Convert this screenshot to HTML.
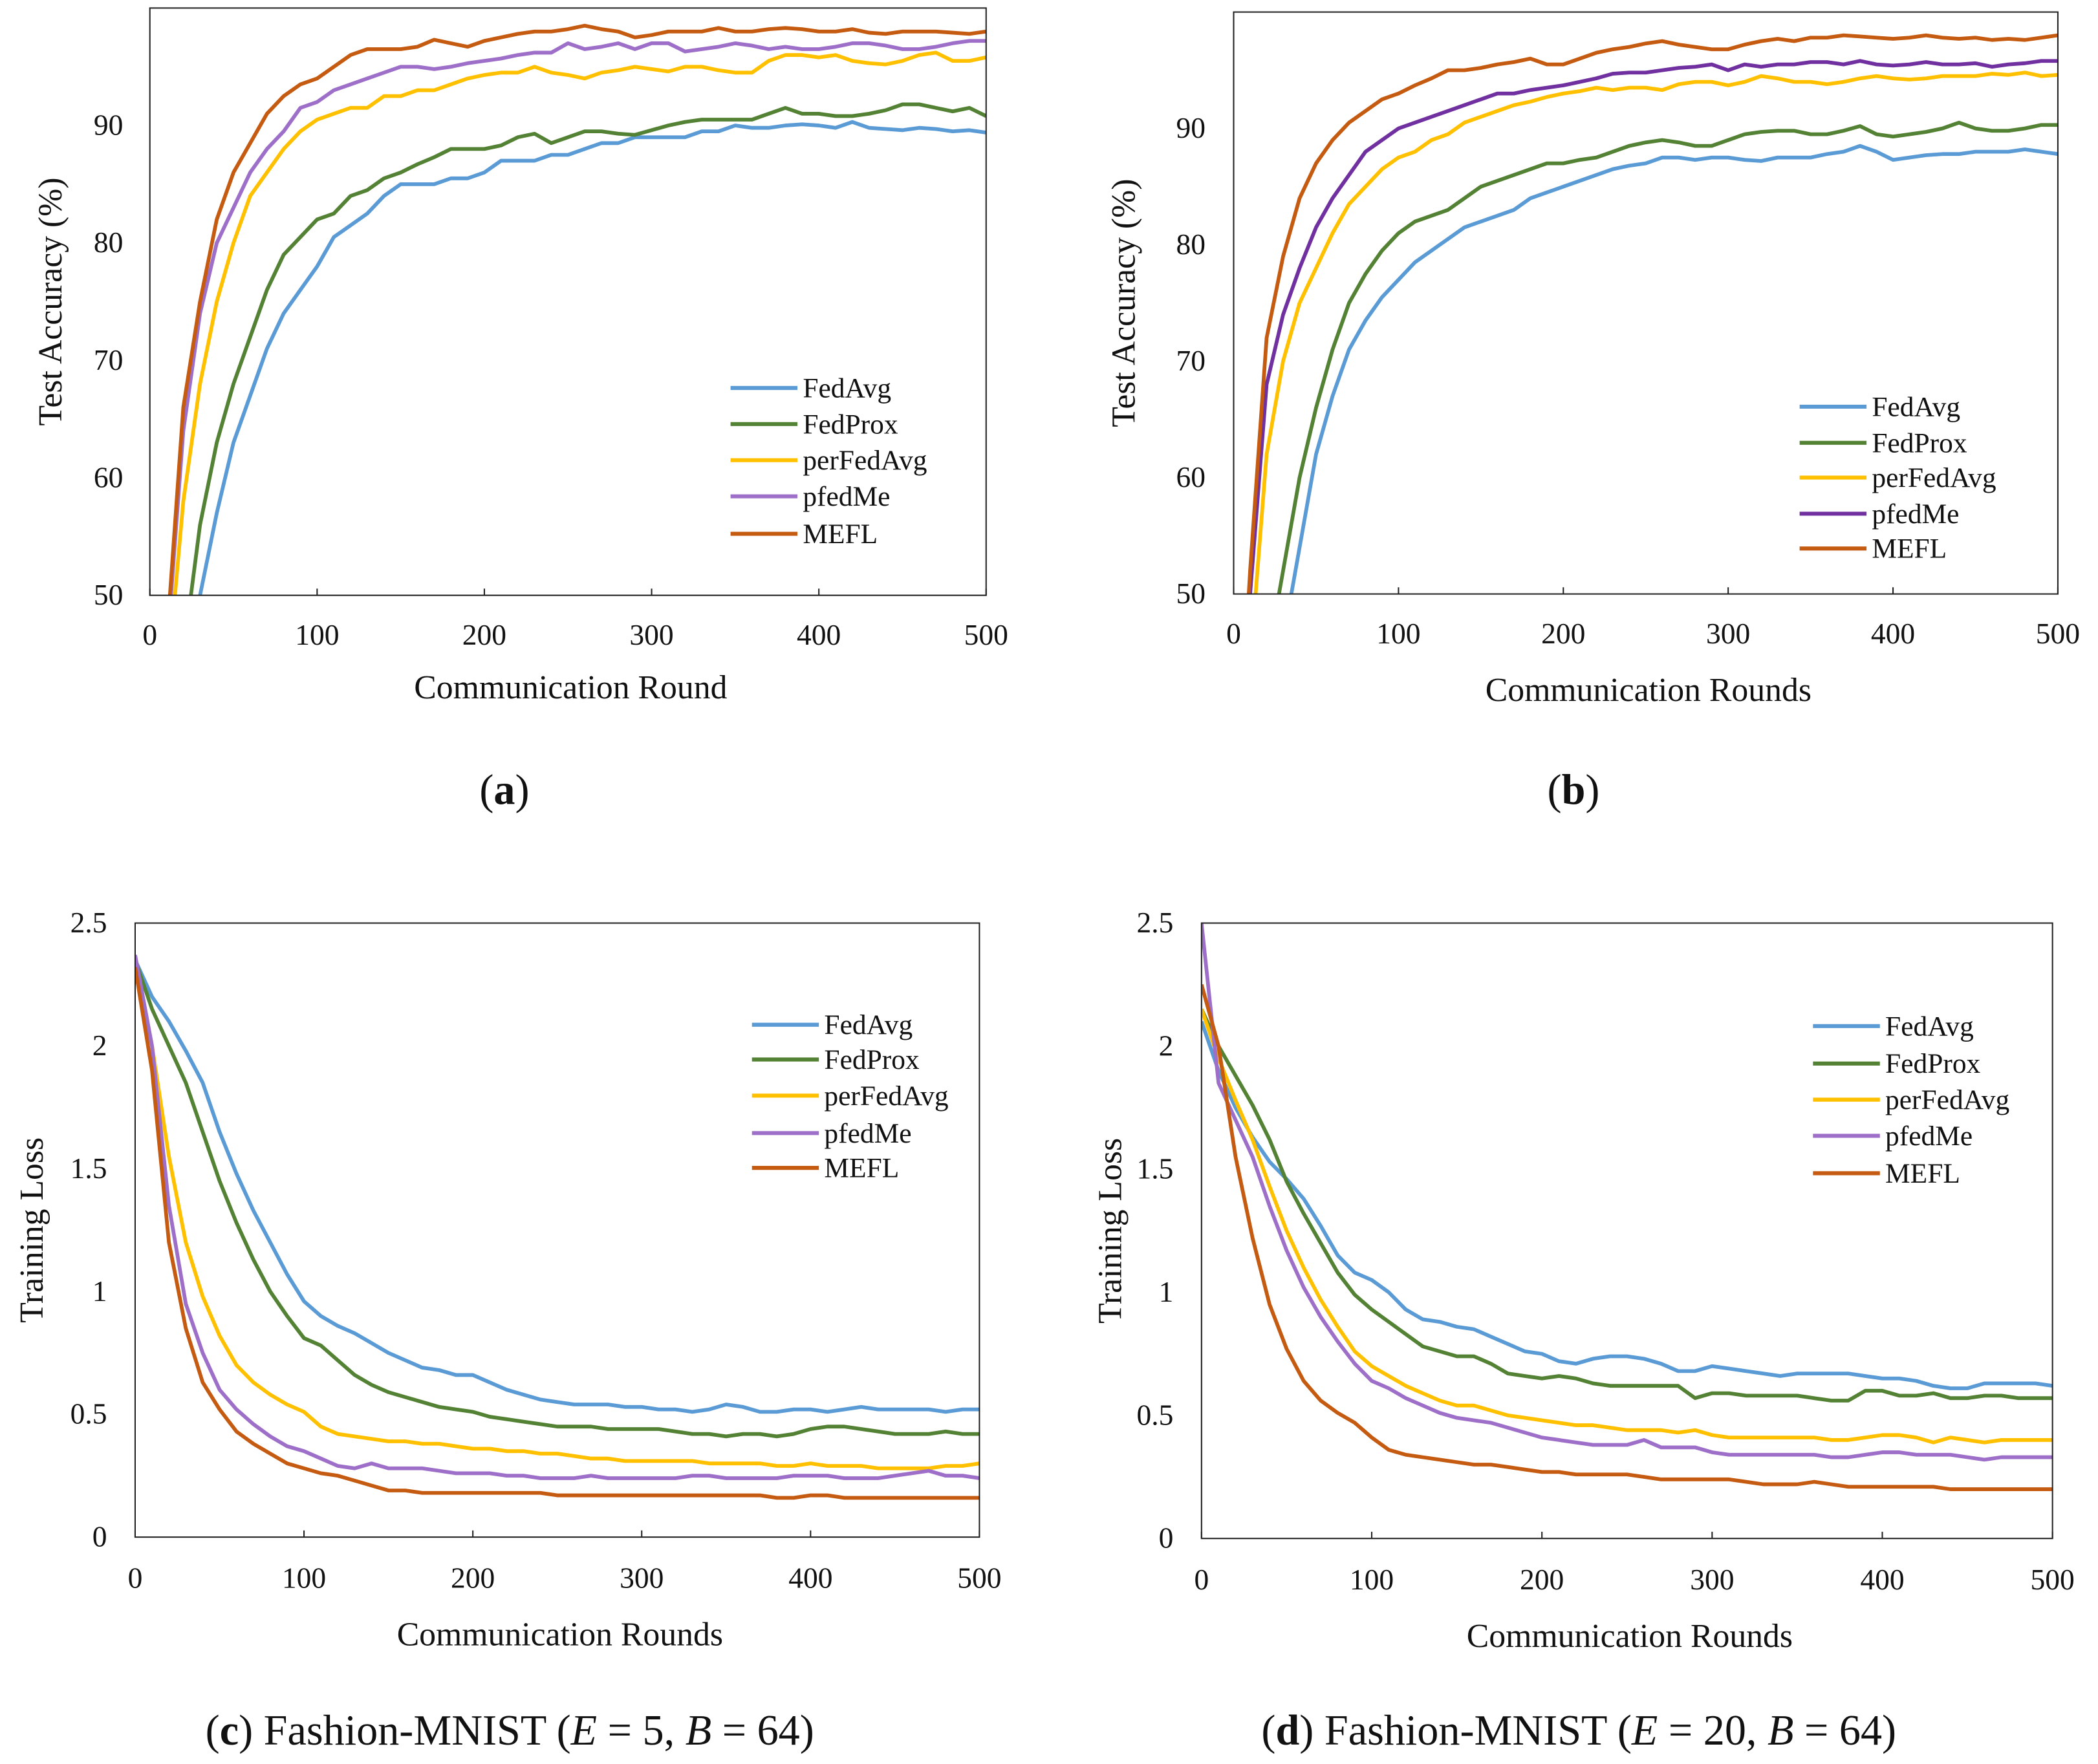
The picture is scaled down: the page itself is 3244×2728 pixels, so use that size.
<!DOCTYPE html>
<html><head><meta charset="utf-8"><title>FL charts</title>
<style>
html,body{margin:0;padding:0;background:#fff;}
svg{display:block;font-family:"Liberation Serif","DejaVu Serif",serif;}
svg text{font-family:"Liberation Serif","DejaVu Serif",serif;fill:#111;}
</style></head>
<body>
<svg id="fig" width="3244" height="2728" viewBox="0 0 1568 1318.6" preserveAspectRatio="none" font-family="Liberation Serif, serif" xmlns="http://www.w3.org/2000/svg"></svg>
<script>
const rounds = [0,10,20,30,40,50,60,70,80,90,100,110,120,130,140,150,160,170,180,190,200,210,220,230,240,250,260,270,280,290,300,310,320,330,340,350,360,370,380,390,400,410,420,430,440,450,460,470,480,490,500];
const seriesNames = ["FedAvg","FedProx","perFedAvg","pfedMe","MEFL"];
const xTicks = [0,100,200,300,400,500];
const accTicks = [50,60,70,80,90];
const lossTicks = [0,0.5,1,1.5,2,2.5];
const lossTickLabels = ["0","0.5","1","1.5","2","2.5"];

const aFedAvg = [20,30,42,50,57,63,67,71,74,76,78,80.5,81.5,82.5,84,85,85,85,85.5,85.5,86,87,87,87,87.5,87.5,88,88.5,88.5,89,89,89,89,89.5,89.5,90,89.8,89.8,90,90.1,90,89.8,90.3,89.8,89.7,89.6,89.8,89.7,89.5,89.6,89.4];
const aFedProx = [20,32,45,56,63,68,72,76,79,80.5,82,82.5,84,84.5,85.5,86,86.7,87.3,88,88,88,88.3,89,89.3,88.5,89,89.5,89.5,89.3,89.2,89.6,90,90.3,90.5,90.5,90.5,90.5,91,91.5,91,91,90.8,90.8,91,91.3,91.8,91.8,91.5,91.2,91.5,90.8];
const aPerFedAvg = [25,42,58,68,75,80,84,86,88,89.5,90.5,91,91.5,91.5,92.5,92.5,93,93,93.5,94,94.3,94.5,94.5,95,94.5,94.3,94,94.5,94.7,95,94.8,94.6,95,95,94.7,94.5,94.5,95.5,96,96,95.8,96,95.5,95.3,95.2,95.5,96,96.2,95.5,95.5,95.8];
const aPfedMe = [28,45,64,74,80,83,86,88,89.5,91.5,92,93,93.5,94,94.5,95,95,94.8,95,95.3,95.5,95.7,96,96.2,96.2,97,96.5,96.7,97,96.5,97,97,96.3,96.5,96.7,97,96.8,96.5,96.7,96.5,96.5,96.7,97,97,96.8,96.5,96.5,96.7,97,97.2,97.2];
const aMEFL = [28,46,66,75,82,86,88.5,91,92.5,93.5,94,95,96,96.5,96.5,96.5,96.7,97.3,97,96.7,97.2,97.5,97.8,98,98,98.2,98.5,98.2,98,97.5,97.7,98,98,98,98.3,98,98,98.2,98.3,98.2,98,98,98.2,97.9,97.8,98,98,98,97.9,97.8,98];

const bFedAvg = [20,28,38,46,54,62,67,71,73.5,75.5,77,78.5,79.5,80.5,81.5,82,82.5,83,84,84.5,85,85.5,86,86.5,86.8,87,87.5,87.5,87.3,87.5,87.5,87.3,87.2,87.5,87.5,87.5,87.8,88,88.5,88,87.3,87.5,87.7,87.8,87.8,88,88,88,88.2,88,87.8];
const bFedProx = [22,34,44,52,60,66,71,75,77.5,79.5,81,82,82.5,83,84,85,85.5,86,86.5,87,87,87.3,87.5,88,88.5,88.8,89,88.8,88.5,88.5,89,89.5,89.7,89.8,89.8,89.5,89.5,89.8,90.2,89.5,89.3,89.5,89.7,90,90.5,90,89.8,89.8,90,90.3,90.3];
const bPerFedAvg = [25,44,62,70,75,78,81,83.5,85,86.5,87.5,88,89,89.5,90.5,91,91.5,92,92.3,92.7,93,93.2,93.5,93.3,93.5,93.5,93.3,93.8,94,94,93.7,94,94.5,94.3,94,94,93.8,94,94.3,94.5,94.3,94.2,94.3,94.5,94.5,94.5,94.7,94.6,94.8,94.5,94.6];
const bPfedMe = [28,50,68,74,78,81.5,84,86,88,89,90,90.5,91,91.5,92,92.5,93,93,93.3,93.5,93.7,94,94.3,94.7,94.8,94.8,95,95.2,95.3,95.5,95,95.5,95.3,95.5,95.5,95.7,95.7,95.5,95.8,95.5,95.4,95.5,95.7,95.5,95.5,95.6,95.3,95.5,95.6,95.8,95.8];
const bMEFL = [28,52,72,79,84,87,89,90.5,91.5,92.5,93,93.7,94.3,95,95,95.2,95.5,95.7,96,95.5,95.5,96,96.5,96.8,97,97.3,97.5,97.2,97,96.8,96.8,97.2,97.5,97.7,97.5,97.8,97.8,98,97.9,97.8,97.7,97.8,98,97.8,97.7,97.8,97.6,97.7,97.6,97.8,98];

const cFedAvg = [2.35,2.2,2.1,1.98,1.85,1.65,1.48,1.33,1.2,1.07,0.96,0.9,0.86,0.83,0.79,0.75,0.72,0.69,0.68,0.66,0.66,0.63,0.6,0.58,0.56,0.55,0.54,0.54,0.54,0.53,0.53,0.52,0.52,0.51,0.52,0.54,0.53,0.51,0.51,0.52,0.52,0.51,0.52,0.53,0.52,0.52,0.52,0.52,0.51,0.52,0.52];
const cFedProx = [2.35,2.15,2.0,1.85,1.65,1.45,1.28,1.13,1.0,0.9,0.81,0.78,0.72,0.66,0.62,0.59,0.57,0.55,0.53,0.52,0.51,0.49,0.48,0.47,0.46,0.45,0.45,0.45,0.44,0.44,0.44,0.44,0.43,0.42,0.42,0.41,0.42,0.42,0.41,0.42,0.44,0.45,0.45,0.44,0.43,0.42,0.42,0.42,0.43,0.42,0.42];
const cPerFedAvg = [2.35,2.0,1.55,1.2,0.98,0.82,0.7,0.63,0.58,0.54,0.51,0.45,0.42,0.41,0.4,0.39,0.39,0.38,0.38,0.37,0.36,0.36,0.35,0.35,0.34,0.34,0.33,0.32,0.32,0.31,0.31,0.31,0.31,0.31,0.3,0.3,0.3,0.3,0.29,0.29,0.3,0.29,0.29,0.29,0.28,0.28,0.28,0.28,0.29,0.29,0.3];
const cPfedMe = [2.37,2.0,1.35,0.95,0.75,0.6,0.52,0.46,0.41,0.37,0.35,0.32,0.29,0.28,0.3,0.28,0.28,0.28,0.27,0.26,0.26,0.26,0.25,0.25,0.24,0.24,0.24,0.25,0.24,0.24,0.24,0.24,0.24,0.25,0.25,0.24,0.24,0.24,0.24,0.25,0.25,0.25,0.24,0.24,0.24,0.25,0.26,0.27,0.25,0.25,0.24];
const cMEFL = [2.32,1.9,1.2,0.85,0.63,0.52,0.43,0.38,0.34,0.3,0.28,0.26,0.25,0.23,0.21,0.19,0.19,0.18,0.18,0.18,0.18,0.18,0.18,0.18,0.18,0.17,0.17,0.17,0.17,0.17,0.17,0.17,0.17,0.17,0.17,0.17,0.17,0.17,0.16,0.16,0.17,0.17,0.16,0.16,0.16,0.16,0.16,0.16,0.16,0.16,0.16];

const dFedAvg = [2.1,1.9,1.75,1.63,1.53,1.46,1.38,1.27,1.15,1.08,1.05,1.0,0.93,0.89,0.88,0.86,0.85,0.82,0.79,0.76,0.75,0.72,0.71,0.73,0.74,0.74,0.73,0.71,0.68,0.68,0.7,0.69,0.68,0.67,0.66,0.67,0.67,0.67,0.67,0.66,0.65,0.65,0.64,0.62,0.61,0.61,0.63,0.63,0.63,0.63,0.62];
const dFedProx = [2.15,2.0,1.88,1.76,1.62,1.45,1.32,1.2,1.08,0.99,0.93,0.88,0.83,0.78,0.76,0.74,0.74,0.71,0.67,0.66,0.65,0.66,0.65,0.63,0.62,0.62,0.62,0.62,0.62,0.57,0.59,0.59,0.58,0.58,0.58,0.58,0.57,0.56,0.56,0.6,0.6,0.58,0.58,0.59,0.57,0.57,0.58,0.58,0.57,0.57,0.57];
const dPerFedAvg = [2.15,1.95,1.78,1.62,1.43,1.25,1.1,0.97,0.86,0.76,0.7,0.66,0.62,0.59,0.56,0.54,0.54,0.52,0.5,0.49,0.48,0.47,0.46,0.46,0.45,0.44,0.44,0.44,0.43,0.44,0.42,0.41,0.41,0.41,0.41,0.41,0.41,0.4,0.4,0.41,0.42,0.42,0.41,0.39,0.41,0.4,0.39,0.4,0.4,0.4,0.4];
const dPfedMe = [2.5,1.85,1.7,1.55,1.35,1.17,1.02,0.9,0.8,0.71,0.64,0.61,0.57,0.54,0.51,0.49,0.48,0.47,0.45,0.43,0.41,0.4,0.39,0.38,0.38,0.38,0.4,0.37,0.37,0.37,0.35,0.34,0.34,0.34,0.34,0.34,0.34,0.33,0.33,0.34,0.35,0.35,0.34,0.34,0.34,0.33,0.32,0.33,0.33,0.33,0.33];
const dMEFL = [2.25,2.0,1.55,1.22,0.95,0.77,0.64,0.56,0.51,0.47,0.41,0.36,0.34,0.33,0.32,0.31,0.3,0.3,0.29,0.28,0.27,0.27,0.26,0.26,0.26,0.26,0.25,0.24,0.24,0.24,0.24,0.24,0.23,0.22,0.22,0.22,0.23,0.22,0.21,0.21,0.21,0.21,0.21,0.21,0.2,0.2,0.2,0.2,0.2,0.2,0.2];

const NS = "http://www.w3.org/2000/svg";
const svg = document.getElementById("fig");
const FF = '"Liberation Serif", serif';
function mk(tag, attrs, parent){ const e=document.createElementNS(NS,tag); for(const k in attrs) e.setAttribute(k,attrs[k]); if(tag==="text") e.setAttribute("font-family",FF); (parent||svg).appendChild(e); return e; }

const panels = [
 {id:"a", L:112,R:737,T:6,B:445, ymin:50,ymax:100, ticks:accTicks, tickLabels:accTicks.map(String), ylabX:92, ytitle:"Test Accuracy (%)", ytX:38, xtitle:"Communication Round", xtY:514, xlabY:475,
  data:[aFedAvg,aFedProx,aPerFedAvg,aPfedMe,aMEFL], colors:["#5b9bd5","#548235","#ffc000","#9e6fc8","#c55a11"], legX:546, legY:[290,317,344,371,399]},
 {id:"b", L:922,R:1538,T:9,B:444, ymin:50,ymax:100, ticks:accTicks, tickLabels:accTicks.map(String), ylabX:901, ytitle:"Test Accuracy (%)", ytX:840, xtitle:"Communication Rounds", xtY:516, xlabY:474,
  data:[bFedAvg,bFedProx,bPerFedAvg,bPfedMe,bMEFL], colors:["#5b9bd5","#548235","#ffc000","#7030a0","#c55a11"], legX:1345, legY:[304,331,357,384,410]},
 {id:"c", L:101,R:732,T:690,B:1149, ymin:0,ymax:2.5, ticks:lossTicks, tickLabels:lossTickLabels, ylabX:80, ytitle:"Training Loss", ytX:24, xtitle:"Communication Rounds", xtY:1222, xlabY:1180,
  data:[cFedAvg,cFedProx,cPerFedAvg,cPfedMe,cMEFL], colors:["#5b9bd5","#548235","#ffc000","#9e6fc8","#c55a11"], legX:562, legY:[766,792,819,847,873]},
 {id:"d", L:898,R:1534,T:690,B:1150, ymin:0,ymax:2.5, ticks:lossTicks, tickLabels:lossTickLabels, ylabX:877, ytitle:"Training Loss", ytX:830, xtitle:"Communication Rounds", xtY:1223, xlabY:1181,
  data:[dFedAvg,dFedProx,dPerFedAvg,dPfedMe,dMEFL], colors:["#5b9bd5","#548235","#ffc000","#9e6fc8","#c55a11"], legX:1355, legY:[767,795,822,849,877]}
];

panels.forEach(p=>{
  const g = mk("g",{});
  
  
  const xs = v => p.L + (v-0)/(500-0)*(p.R-p.L);
  const ys = v => p.B - (v-p.ymin)/(p.ymax-p.ymin)*(p.B-p.T);
  const cp = mk("clipPath",{id:"clip"+p.id},g);
  mk("rect",{x:p.L,y:p.T,width:p.R-p.L,height:p.B-p.T},cp);
  p.data.forEach((arr,i)=>{
    const pts = arr.map((v,j)=>xs(rounds[j]).toFixed(2)+","+ys(v).toFixed(2)).join(" ");
    const pl = mk("polyline",{points:pts,fill:"none",stroke:p.colors[i],"stroke-width":2.8,"stroke-linejoin":"round","clip-path":"url(#clip"+p.id+")"},g);
    
    
  });
  const fr = mk("rect",{x:p.L,y:p.T,width:p.R-p.L,height:p.B-p.T,fill:"none",stroke:"#222","stroke-width":1},g);
  
  
  xTicks.forEach(t=>{
    mk("line",{x1:xs(t),x2:xs(t),y1:p.B,y2:p.B-5,stroke:"#222","stroke-width":1},g);
    const tx = mk("text",{x:xs(t),y:p.xlabY+7,"text-anchor":"middle","font-size":22},g);
    tx.textContent = String(t);
    
    
  });
  p.ticks.forEach((t,k)=>{
    const ty = mk("text",{x:p.ylabX,y:ys(t)+7,"text-anchor":"end","font-size":22},g);
    ty.textContent = p.tickLabels[k];
    
    
  });
  const xt = mk("text",{x:(p.L+p.R)/2+2,y:p.xtY+8,"text-anchor":"middle","font-size":25},g);
  xt.textContent = p.xtitle;
  
  
  const cy = (p.T+p.B)/2;
  const yt = mk("text",{x:p.ytX+8,y:cy,"text-anchor":"middle","font-size":25,transform:"rotate(-90 "+(p.ytX+8)+" "+cy+")"},g);
  yt.textContent = p.ytitle;
  
  
  seriesNames.forEach((n,i)=>{
    const lg = mk("g",{},g);
    
    
    mk("line",{x1:p.legX,x2:p.legX+50,y1:p.legY[i],y2:p.legY[i],stroke:p.colors[i],"stroke-width":3},lg);
    const lt = mk("text",{x:p.legX+54,y:p.legY[i]+7,"font-size":21},lg);
    lt.textContent = n;
  });
});

function caption(x,y,html,name){
  const t = mk("text",{x:x,y:y,"text-anchor":"middle","font-size":32});
  t.innerHTML = html;
  
  
}
caption(377,601,'(<tspan font-weight="bold">a</tspan>)','caption-a');
caption(1176,601,'(<tspan font-weight="bold">b</tspan>)','caption-b');
caption(381,1304,'(<tspan font-weight="bold">c</tspan>) Fashion-MNIST (<tspan font-style="italic">E</tspan> = 5, <tspan font-style="italic">B</tspan> = 64)','caption-c');
caption(1180,1304,'(<tspan font-weight="bold">d</tspan>) Fashion-MNIST (<tspan font-style="italic">E</tspan> = 20, <tspan font-style="italic">B</tspan> = 64)','caption-d');
</script>
</body></html>
